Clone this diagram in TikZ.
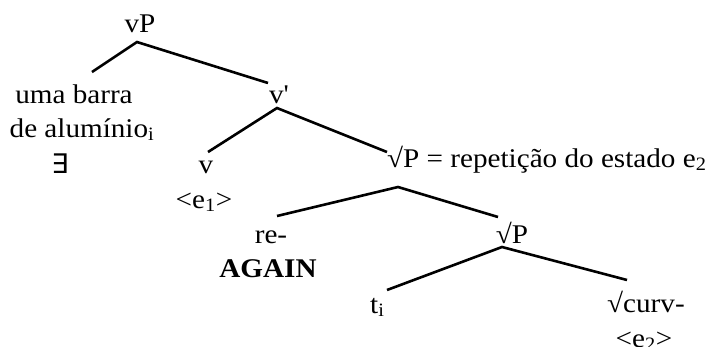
\documentclass[tikz,border=0pt]{standalone}
\usepackage{fontspec}
\setmainfont{Liberation Serif}[FakeStretch=1.08,Ligatures=TeXOff]
\newfontfamily\symfont{DejaVu Sans}
\begin{document}
\begin{tikzpicture}[x=1pt,y=-1pt,
  lbl/.style={anchor=base,inner sep=0pt,font=\fontsize{27pt}{32pt}\selectfont},
  lblw/.style={lbl,anchor=base west},
  branch/.style={line width=2.6pt}]
\useasboundingbox (0,0) rectangle (711,346);

% labels
\node[lbl] (vP) at (140,32) {vP};
\node[lbl] (uma) at (74,103) {uma barra};
\node[lbl] (alu) at (82,137) {de alumínio\textsubscript{i}};
\node[lbl] (ex) at (60,173) {\symfont ∃};
\node[lbl] (vbar) at (279,103) {v'};
\node[lbl] (v) at (206,173) {v};
\node[lbl] (e1) at (204,208) {<e\textsubscript{1}>};
\node[lblw] (rp) at (387,167) {√P = repetição do estado e\textsubscript{2}};
\node[lbl] (re) at (271,243) {re-};
\node[lbl] (again) at (268,277) {\bfseries AGAIN};
\node[lbl] (rp2) at (512,243) {√P};
\node[lblw] (t) at (370,313) {t\textsubscript{i}};
\node[lblw] (curv) at (607,312) {√curv-};
\node[lbl] (e2) at (644,347) {<e\textsubscript{2}>};

% branches
\draw[branch] ([shift={(18,-31)}]uma.base) -- ([shift={(-3,10)}]vP.base) -- ([shift={(-11,-20)}]vbar.base);
\draw[branch] ([shift={(2,-21)}]v.base) -- ([shift={(-2,5)}]vbar.base) -- ([shift={(0,-15)}]rp.base west);
\draw[branch] ([shift={(6,-27)}]re.base) -- ([shift={(11,20)}]rp.base west) -- ([shift={(-14,-26)}]rp2.base);
\draw[branch] ([shift={(17,-23)}]t.base west) -- ([shift={(-10,4)}]rp2.base) -- ([shift={(20,-32)}]curv.base west);
\end{tikzpicture}
\end{document}
